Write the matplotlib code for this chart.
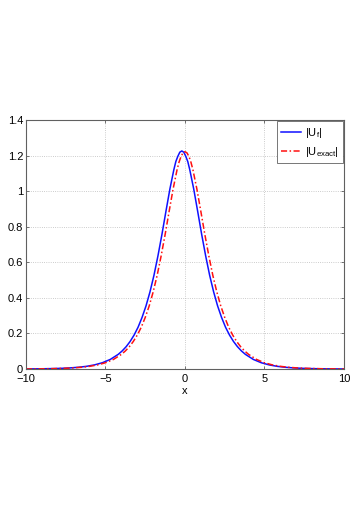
import matplotlib.pyplot as plt
from matplotlib.ticker import FuncFormatter

plt.rcParams['font.family'] = ['Liberation Sans', 'DejaVu Sans']
plt.rcParams['mathtext.default'] = 'regular'

# values (red curve centred at 0, blue shifted ~0.2 left)
x_exact = [-10, -9.5, -9, -8.5, -8, -7.5, -7, -6.5, -6, -5.5, -5, -4.5,
           -4, -3.75, -3.5, -3.25, -3, -2.75, -2.5, -2.25, -2, -1.75, -1.5,
           -1.25, -1, -0.75, -0.5, -0.375, -0.25, -0.125, 0, 0.125, 0.25,
           0.375, 0.5, 0.75, 1, 1.25, 1.5,
           1.75, 2, 2.25, 2.5, 2.75, 3, 3.25, 3.5, 3.75, 4,
           4.5, 5, 5.5, 6, 6.5, 7, 7.5, 8, 8.5, 9, 9.5, 10]
u_exact = [0.0005, 0.0008, 0.0012, 0.0018, 0.0028, 0.0042, 0.0065, 0.0099,
           0.0151, 0.0231, 0.0353, 0.0539,
           0.0823, 0.1017, 0.1255, 0.155, 0.191, 0.235, 0.290, 0.355, 0.434,
           0.527, 0.636, 0.756, 0.885, 1.011, 1.120, 1.1628, 1.195, 1.2152,
           1.222, 1.2152, 1.195, 1.1628,
           1.120, 1.011, 0.885, 0.756, 0.636, 0.527, 0.434, 0.355, 0.290,
           0.235, 0.191, 0.155, 0.1255, 0.1017, 0.0823,
           0.0539, 0.0353, 0.0231, 0.0151, 0.0099, 0.0065, 0.0042, 0.0028,
           0.0018, 0.0012, 0.0008, 0.0005]

x_f = [-10.2, -9.7, -9.2, -8.7, -8.2, -7.7, -7.2, -6.7, -6.2, -5.7, -5.2,
       -4.7, -4.2, -3.95, -3.7, -3.45, -3.2, -2.95, -2.7, -2.45, -2.2,
       -1.95, -1.7, -1.45, -1.2, -0.95, -0.7, -0.575, -0.45, -0.325, -0.2,
       -0.075, 0.05, 0.175, 0.3, 0.55,
       0.8, 1.05, 1.3, 1.55, 1.8, 2.05, 2.3, 2.55, 2.8, 3.05, 3.3, 3.55,
       3.8, 4.3, 4.8, 5.3, 5.8, 6.3, 6.8, 7.3, 7.8, 8.3, 8.8, 9.3, 9.8, 10.3]
u_f = [0.0005, 0.0008, 0.0012, 0.0018, 0.0028, 0.0042, 0.0065, 0.0099,
       0.0151, 0.0231, 0.0353, 0.0539,
       0.0824, 0.1018, 0.1256, 0.1551, 0.1911, 0.2352, 0.2902, 0.3553,
       0.4343, 0.5275, 0.6365, 0.7566, 0.8857, 1.0118, 1.1209, 1.1666,
       1.1960, 1.2192, 1.2260, 1.2192, 1.1960, 1.1666, 1.1209, 1.0118,
       0.8857, 0.7566, 0.6365, 0.5275,
       0.4343, 0.3553, 0.2902, 0.2352, 0.1911, 0.1551, 0.1256, 0.1018,
       0.0824, 0.0539, 0.0353, 0.0231, 0.0151, 0.0099, 0.0065, 0.0042,
       0.0028, 0.0018, 0.0012, 0.0008, 0.0005, 0.0003]

fig = plt.figure(figsize=(3.6, 5.09), dpi=100)
ax = fig.add_axes([0.0722, 0.2750, 0.8833, 0.4892])

ax.plot(x_f, u_f, color='#1010ff', lw=1.1, label=r'$|U_f|$')
ax.plot(x_exact, u_exact, color='#ff1010', lw=1.1, ls='-.',
        dashes=(4, 1.6, 1, 1.6), label=r'$|U_{exact}|$')

ax.set_xlim(-10, 10)
ax.set_ylim(0, 1.4)
ax.set_xticks([-10, -5, 0, 5, 10])
ax.set_yticks([0, 0.2, 0.4, 0.6, 0.8, 1, 1.2, 1.4])
fmt = FuncFormatter(lambda v, p: ('%g' % v).replace('-', '\u2212'))
ax.xaxis.set_major_formatter(fmt)
ax.yaxis.set_major_formatter(fmt)
ax.grid(True, ls=':', color='#bbbbbb', lw=0.6)
ax.tick_params(direction='in', labelsize=8, length=2.5, width=0.5,
               top=True, right=True, colors='#404040',
               labelcolor='black')
ax.tick_params(axis='y', pad=2)
ax.tick_params(axis='x', pad=3.5)
for s in ax.spines.values():
    s.set_color('#606060')
    s.set_linewidth(0.8)
ax.set_xlabel('x', fontsize=8, labelpad=1.5)

leg = ax.legend(loc='upper right', fontsize=8, handlelength=1.8,
                handletextpad=0.3, fancybox=False, framealpha=1,
                borderaxespad=0.1, labelspacing=0.45, borderpad=0.4)
leg.get_frame().set_edgecolor('#606060')
leg.get_frame().set_linewidth(0.6)

fig.savefig('out.png', dpi=100)
